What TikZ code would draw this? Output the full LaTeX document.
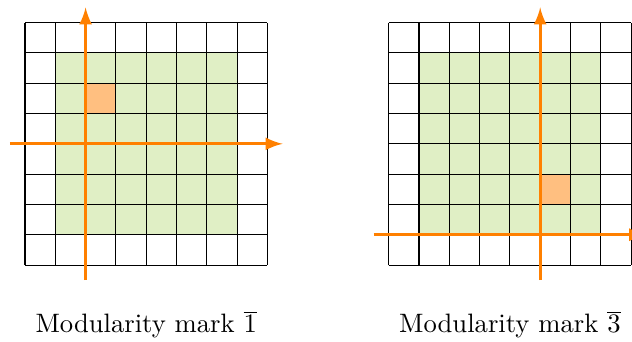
\documentclass[tikz,border=0pt]{standalone}
\usepackage{amsmath}
\usepackage{tikz}

\definecolor{vungxanh}{HTML}{E0EFC5}
\definecolor{onhat}{HTML}{FFBF80}
\definecolor{trucmau}{HTML}{FF8000}

\begin{document}
\begin{tikzpicture}[x=0.4cm, y=0.4cm, >=latex,
    luoi/.style={black, line width=0.4pt},
    truc/.style={->, trucmau, line width=1.2pt}]
            % Khung hình
            \useasboundingbox (-0.825, -2.508) rectangle (20.03, 8.746);
            
            % Lưới bên trái
            \fill[vungxanh] (1, 1) rectangle (7, 7);
            \fill[onhat] (2, 5) rectangle (3, 6);
            \draw[luoi, step=1] (0, 0) grid (8, 8);
            
            % Trục tọa độ bên trái
            \coordinate (O1) at (2, 4);
            \draw[truc] (-0.5, 4) -- (8.5, 4);
            \draw[truc] (2, -0.5) -- (2, 8.5);
            \node[anchor=base] (nhan1) at (4, -2.24) {Modularity mark $\overline{1}$};
            
            % Lưới bên phải
            \begin{scope}[xshift=4.8cm]
                \fill[vungxanh] (1, 1) rectangle (7, 7);
                \fill[onhat] (5, 2) rectangle (6, 3);
                \draw[luoi, step=1] (0, 0) grid (8, 8);
                
                % Trục tọa độ bên phải
                \coordinate (O2) at (5, 1);
                \draw[truc] (-0.5, 1) -- (8.5, 1);
                \draw[truc] (5, -0.5) -- (5, 8.5);
                \node[anchor=base] (nhan2) at (4, -2.24) {Modularity mark $\overline{3}$};
            \end{scope}
        \end{tikzpicture}
\end{document}
